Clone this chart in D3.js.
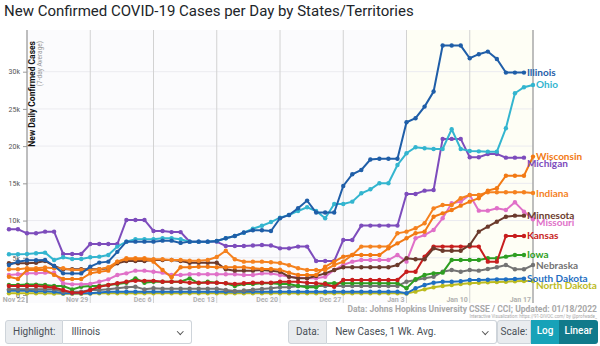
<!DOCTYPE html>
<html>
<head>
<meta charset="utf-8">
<script src="https://cdn.jsdelivr.net/npm/d3@7"></script>
<style>
body { margin: 0; background: #fff; font-family: Roboto, "Helvetica Neue", Arial, sans-serif; }
#wrap { position: relative; width: 600px; height: 346px; overflow: hidden; }
#chart { position: absolute; left: 0; top: 0; }
.grp { position: absolute; top: 320px; height: 24px; display: flex; font-size: 10px; color: #495057; white-space: nowrap; }
.grp div { box-sizing: border-box; height: 24px; line-height: 22px; border: 1px solid #ced4da; }
.grp .pre { background: #e9ecef; padding: 0 7px; border-radius: 3px 0 0 3px; flex: none; }
.grp .sel { background: #fff; border-left: none; border-radius: 0 3px 3px 0; padding: 0 8px; position: relative; color: #495057; flex: 1; }
.grp .sel::after { content: ""; position: absolute; right: 9px; top: 8px; width: 3.5px; height: 3.5px; border-right: 1.2px solid #555; border-bottom: 1.2px solid #555; transform: rotate(45deg); }
.grp .btn { color: #fff; border: none; flex: none; text-align: center; font-weight: 500; }
</style>
</head>
<body>
<div id="wrap">
  <div id="chart"></div>
  <div class="grp" style="left:5px;width:187px;">
    <div class="pre">Highlight:</div>
    <div class="sel">Illinois</div>
  </div>
  <div class="grp" style="left:288px;width:209px;">
    <div class="pre">Data:</div>
    <div class="sel">New Cases, 1 Wk. Avg.</div>
  </div>
  <div class="grp" style="left:497px;width:101px;">
    <div class="pre" style="width:34px;padding:0;text-align:center;">Scale:</div>
    <div class="btn" style="width:28px;background:#17a2b8;">Log</div>
    <div class="btn" style="width:39px;background:#117a8b;border-radius:0 3px 3px 0;">Linear</div>
  </div>
</div>
<script>
"use strict";

// daily values start on Nov 20, 2021
var startDate = new Date(2021, 10, 20);

var stateNames = ["Illinois", "Ohio", "Wisconsin", "Michigan", "Indiana", "Minnesota",
                  "Missouri", "Kansas", "Iowa", "Nebraska", "South Dakota", "North Dakota"];
var stateColors = ["#1f5ea8", "#33b5cf", "#f27a14", "#7d4cbc", "#f5821f", "#6b3a2c",
                   "#e070c8", "#c71e1e", "#2e9e22", "#737373", "#1f6fc2", "#bcbb1e"];

var illinois = [4030, 4480, 4660, 4660, 4700, 3900, 2910, 2900, 2900, 3810, 4350, 4480, 5800, 7170,
  7170, 7170, 7170, 7300, 7300, 7000, 7170, 7170, 7170, 7250, 7620, 7930, 8400, 8700, 8700, 8600,
  10310, 10750, 11650, 12680, 11080, 11080, 11080, 14650, 16220, 16800, 18200, 18300, 18300, 18300,
  23210, 23750, 25310, 27330, 33510, 33510, 33510, 31810, 32350, 32700, 31700, 29880, 29880, 29880];
var ohio = [5470, 5470, 5500, 5600, 5690, 4700, 5070, 4840, 4840, 5070, 5150, 5380, 6500, 7170,
  7490, 7490, 7490, 7620, 7620, 7490, 7170, 7170, 7170, 7250, 7620, 7930, 8370, 8900, 9300, 9800,
  10390, 10750, 11290, 11790, 11290, 10310, 12230, 12230, 12540, 13670, 14200, 15010, 15010, 17470,
  19040, 19850, 19720, 19620, 19620, 22270, 19620, 19350, 19300, 19260, 19260, 22400, 27100, 27910, 28220];
var wisconsin = [2460, 2150, 3360, 3360, 3360, 2700, 2150, 2150, 2150, 2910, 3130, 3270, 4480, 4800,
  4800, 4800, 4480, 3360, 2380, 3720, 3720, 3800, 3800, 3720, 3720, 3720, 3720, 3600, 3500, 3500,
  3400, 3000, 2700, 2700, 2700, 3800, 4480, 5150, 5380, 5380, 5380, 5380, 6270, 6940, 7620, 8290,
  8510, 10520, 10970, 11420, 12000, 12540, 13000, 14020, 14340, 16030, 16030, 16030, 18590];
var michigan = [8830, 8830, 8290, 8290, 8510, 8510, 5510, 5510, 5510, 6850, 6850, 6850, 6850, 10080,
  10080, 10080, 8600, 8600, 8450, 8450, 7170, 7170, 7170, 7170, 6590, 6590, 6590, 6650, 6720, 6650,
  6270, 6270, 6500, 6500, 4570, 4570, 4570, 7390, 7390, 9320, 9320, 9320, 9320, 9320, 13570, 13570,
  14020, 14100, 20970, 20970, 20970, 18500, 18500, 18950, 18950, 18450, 18450, 18450];
var indiana = [3450, 3450, 3600, 3600, 3700, 3600, 3600, 3360, 3360, 3360, 3450, 3720, 4480, 4930,
  4930, 4930, 4800, 4800, 4700, 4700, 4600, 4600, 4700, 5100, 5950, 4800, 4480, 4480, 4480, 4400,
  4300, 4000, 3600, 3360, 3360, 3360, 4030, 4480, 5380, 6500, 6500, 6500, 6500, 8290, 8510, 8960,
  9630, 11640, 12090, 12090, 13000, 13440, 13440, 13800, 13800, 13800, 13800, 13800, 13700];
var minnesota = [4260, 4260, 4260, 4340, 4570, 3900, 3450, 3450, 3450, 3450, 3450, 3580, 4260, 4570,
  4570, 4570, 4700, 4700, 4700, 4570, 4340, 4340, 4340, 4340, 3450, 3270, 3270, 3270, 3360, 3270,
  3130, 2460, 2240, 2240, 2550, 2910, 3360, 3720, 3720, 3720, 3720, 3720, 3720, 4030, 4930, 4800,
  4800, 6270, 5950, 5950, 5950, 6720, 8510, 9180, 9850, 10520, 10660, 10660];
var missouri = [2690, 2780, 2910, 2910, 3000, 3000, 1570, 1430, 1430, 1500, 1790, 2100, 2690, 2910,
  3270, 3270, 3130, 3000, 2690, 2690, 2780, 2780, 2780, 2780, 2780, 2780, 2690, 2690, 2900, 2900,
  2690, 2460, 2350, 2240, 2240, 2460, 3360, 4030, 4480, 4700, 4700, 4700, 4700, 5380, 4480, 7620,
  8060, 8740, 10310, 12320, 12540, 13440, 11330, 11330, 11650, 11420, 12460, 11200, 10170];
var kansas = [1210, 1210, 1210, 1210, 1100, 1000, 670, 310, 310, 670, 1100, 1340, 1570, 1790,
  1900, 1900, 1900, 1790, 1790, 1790, 1650, 1650, 1650, 1650, 1570, 1480, 1570, 1650, 1650, 1650,
  1790, 1790, 1790, 1650, 1570, 1480, 1100, 2020, 2020, 2020, 2020, 2020, 2020, 2020, 3130, 3130,
  5150, 6500, 6500, 6500, 6500, 6500, 6500, 4480, 4480, 7930, 7930, 7930];
var iowa = [1340, 1340, 1400, 1400, 1340, 1210, 1210, 760, 1100, 1210, 1210, 1340, 1480, 1650,
  2240, 1650, 1790, 1790, 1790, 1790, 2240, 1570, 1790, 1650, 1570, 1210, 1480, 1480, 1570, 1570,
  1480, 1480, 1210, 1030, 1030, 1570, 1570, 1570, 1570, 1570, 1570, 1570, 1570, 1570, 900, 2110,
  2690, 2910, 3000, 4700, 4700, 4700, 4700, 4930, 4930, 5150, 5380, 5380];
var nebraska = [760, 760, 760, 760, 760, 760, 450, 450, 450, 670, 670, 760, 900, 1030,
  1100, 760, 900, 850, 850, 850, 850, 850, 850, 850, 670, 540, 600, 700, 800, 900,
  1030, 1030, 1210, 1210, 1210, 1210, 1210, 1210, 1210, 1210, 1210, 1210, 1210, 1210, 1790, 2020,
  2240, 2460, 3130, 3360, 3130, 3360, 3270, 3490, 3720, 4030, 3450, 3450, 4030];
var southDakota = [580, 580, 580, 500, 500, 450, 230, 230, 230, 230, 350, 450, 450, 450,
  450, 450, 450, 450, 450, 450, 450, 450, 450, 450, 450, 450, 450, 450, 450, 450,
  450, 450, 450, 450, 450, 450, 450, 450, 450, 450, 450, 450, 450, 450, 230, 900,
  1340, 1650, 1790, 1790, 1850, 2020, 2020, 2050, 2100, 2100, 2150, 2200];
var northDakota = [230, 230, 230, 230, 230, 200, 170, 170, 170, 200, 230, 230, 230, 230,
  230, 230, 230, 230, 230, 230, 230, 230, 230, 230, 230, 230, 230, 230, 230, 230,
  230, 230, 230, 230, 230, 230, 230, 230, 230, 230, 230, 230, 230, 230, 200, 450,
  760, 1030, 1210, 1340, 1480, 1570, 1650, 1700, 1750, 1790, 1850, 1880, 1880];

var yTicks = [0, 5000, 10000, 15000, 20000, 25000, 30000];
var highlighted = "Illinois";
// the last two weeks are shaded
var recentStart = new Date(2022, 0, 3);

var seriesValues = [illinois, ohio, wisconsin, michigan, indiana, minnesota,
                    missouri, kansas, iowa, nebraska, southDakota, northDakota];

var series = stateNames.map(function (name, i) {
  return {
    name: name,
    color: stateColors[i],
    values: seriesValues[i].map(function (v, j) {
      return { date: d3.timeDay.offset(startDate, j), value: v };
    })
  };
});

var width = 600, height = 320;

var svg = d3.select("#chart")
  .append("svg")
  .attr("width", width)
  .attr("height", height);

svg.append("text")
  .attr("x", 4)
  .attr("y", 16)
  .style("font-size", "15px")
  .style("fill", "#212529")
  .text("New Confirmed COVID-19 Cases per Day by States/Territories");

var x = d3.scaleTime()
  .domain([new Date(2021, 10, 22), new Date(2022, 0, 17)])
  .range([27, 533]);

var y = d3.scaleLinear()
  .domain([0, 35600])
  .range([295, 30]);

svg.append("rect")
  .attr("x", x.range()[0]).attr("y", 30)
  .attr("width", x(recentStart) - x.range()[0]).attr("height", 273)
  .style("fill", "#fbfbfd");
svg.append("rect")
  .attr("x", x(recentStart)).attr("y", 30)
  .attr("width", x.range()[1] - x(recentStart)).attr("height", 273)
  .style("fill", "#fefef5");

// horizontal grid
svg.append("g")
  .selectAll("line")
  .data(yTicks.slice(1))
  .enter().append("line")
  .attr("x1", 27).attr("x2", 533)
  .attr("y1", function (d) { return y(d); })
  .attr("y2", function (d) { return y(d); })
  .style("stroke", "#ebebf0")
  .style("stroke-width", 1);

// weekly grid lines, labels sit left of each line
var weeks = x.ticks(d3.timeMonday.every(1));
var fmt = d3.timeFormat("%b %-d");
var xg = svg.append("g");
xg.selectAll("line")
  .data(weeks)
  .enter().append("line")
  .attr("x1", function (d) { return x(d); })
  .attr("x2", function (d) { return x(d); })
  .attr("y1", 30).attr("y2", 303)
  .style("stroke", function (d, i) { return (i == 0 || i == weeks.length - 1) ? "#a8a8a8" : "#d2d2d2"; })
  .style("stroke-width", function (d, i) { return (i == 0 || i == weeks.length - 1) ? 1.5 : 1; });
xg.selectAll("text")
  .data(weeks)
  .enter().append("text")
  .attr("x", function (d) { return x(d) - 2; })
  .attr("y", 302)
  .attr("text-anchor", "end")
  .style("font-size", "7px")
  .style("font-weight", "bold")
  .style("fill", "#b0b0b0")
  .text(fmt);

// y axis
var yAxis = svg.append("g")
  .attr("transform", "translate(27,0)")
  .call(d3.axisLeft(y)
    .tickValues(yTicks)
    .tickSize(4)
    .tickFormat(function (d) { return d ? d / 1000 + "k" : "0"; }));
yAxis.select(".domain").remove();
yAxis.selectAll(".tick line").style("stroke", "#999");
yAxis.selectAll(".tick text")
  .style("font-size", "7px")
  .style("fill", "#555")
  .style("font-family", "Roboto, sans-serif");

svg.append("text")
  .attr("transform", "translate(35,41) rotate(-90)")
  .attr("text-anchor", "end")
  .style("font-size", "8.5px")
  .style("font-weight", "bold")
  .style("fill", "#111")
  .text("New Daily Confirmed Cases");
svg.append("text")
  .attr("transform", "translate(42,41) rotate(-90)")
  .attr("text-anchor", "end")
  .style("font-size", "6.5px")
  .style("fill", "#999")
  .text("(7-day Average)");

svg.append("clipPath")
  .attr("id", "plotClip")
  .append("rect")
  .attr("x", 3).attr("y", 25)
  .attr("width", 540).attr("height", 285);

var line = d3.line()
  .x(function (d) { return x(d.date); })
  .y(function (d) { return y(d.value); });

var ordered = series.filter(function (s) { return s.name != highlighted; })
  .reverse()
  .concat(series.filter(function (s) { return s.name == highlighted; }));

var plot = svg.append("g").attr("clip-path", "url(#plotClip)");

var groups = plot.selectAll("g.state")
  .data(ordered)
  .enter().append("g")
  .attr("class", "state");

groups.append("path")
  .attr("d", function (d) { return line(d.values); })
  .style("fill", "none")
  .style("stroke", function (d) { return d.color; })
  .style("stroke-width", 2);

groups.selectAll("circle")
  .data(function (d) { return d.values.map(function (v) { return { v: v, color: d.color }; }); })
  .enter().append("circle")
  .attr("cx", function (d) { return x(d.v.date); })
  .attr("cy", function (d) { return y(d.v.value); })
  .attr("r", 2.2)
  .style("fill", function (d) { return d.color; });

// end labels, pushed down where they collide
var labels = series.map(function (s) {
  var last = s.values[s.values.length - 1];
  return { name: s.name, color: s.color, x: x(last.date) + 3, y: y(last.value) };
});
labels.sort(function (a, b) { return a.y - b.y; });
for (var i = 1; i < labels.length; i++) {
  if (labels[i].y - labels[i - 1].y < 6.5) labels[i].y = labels[i - 1].y + 6.5;
}

svg.append("g")
  .selectAll("text")
  .data(labels)
  .enter().append("text")
  .attr("x", function (d) { return d.x; })
  .attr("y", function (d) { return d.y; })
  .attr("dy", "0.35em")
  .style("font-size", "10px")
  .style("font-weight", "bold")
  .style("font-family", "Lato, sans-serif")
  .style("fill", function (d) { return d.color; })
  .text(function (d) { return d.name; });

svg.append("text")
  .attr("x", 597).attr("y", 312)
  .attr("text-anchor", "end")
  .style("font-size", "8.5px")
  .style("font-weight", "bold")
  .style("fill", "#a8a8a8")
  .text("Data: Johns Hopkins University CSSE / CCI; Updated: 01/18/2022");
svg.append("text")
  .attr("x", 597).attr("y", 318)
  .attr("text-anchor", "end")
  .style("font-size", "4.5px")
  .style("fill", "#a8a8a8")
  .text("Interactive Visualization: https://91-DIVOC.com/ by @profwade_");
</script>
</body>
</html>
